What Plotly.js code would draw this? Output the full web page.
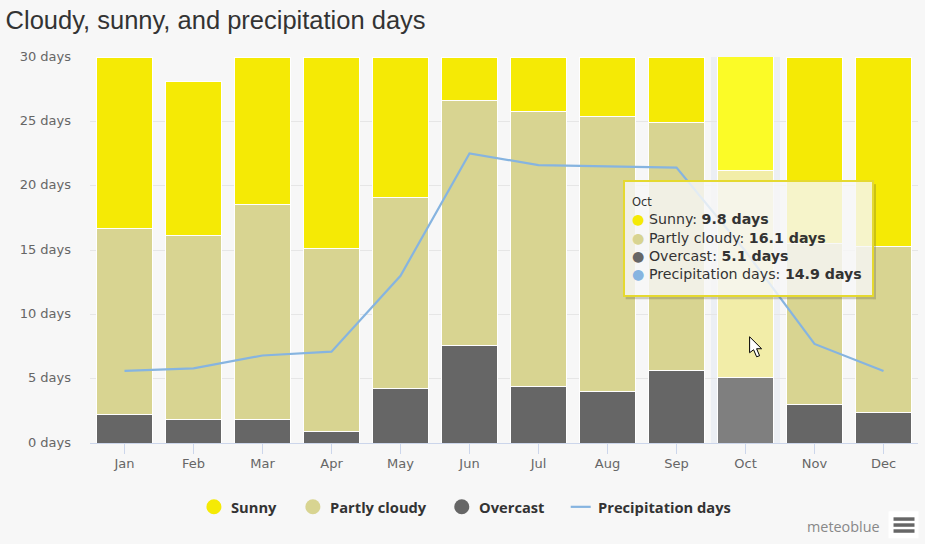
<!DOCTYPE html>
<html><head><meta charset="utf-8">
<script src="https://cdn.plot.ly/plotly-3.0.1.min.js"></script>
<style>html,body{margin:0;padding:0;background:#f7f7f7}</style></head>
<body><div id="chart" style="width:925px;height:544px"></div>
<script>
const months=["Jan","Feb","Mar","Apr","May","Jun","Jul","Aug","Sep","Oct","Nov","Dec"];
const overcast=[2.2,1.8,1.8,0.9,4.2,7.6,4.4,4.0,5.6,5.1,3.0,2.4];
const partly=[14.5,14.3,16.7,14.2,14.9,19.0,21.4,21.4,19.3,16.1,12.5,12.9];
const sunny=[13.3,12.0,11.5,14.9,10.9,3.4,4.2,4.6,5.1,9.8,14.5,14.7];
const precip=[5.6,5.8,6.8,7.1,13.0,22.5,21.6,21.5,21.4,14.9,7.7,5.6];
const yTicks=[0,5,10,15,20,25,30];
const hi=9;
const colSun="#f5ea05",colPart="#d8d491",colOver="#666666",colRain="#86b4e0";
const withHi=(c,h)=>months.map((_,i)=>i===hi?h:c);
const bar=(name,y,c,h)=>({type:"bar",name,x:months,y,showlegend:false,hoverinfo:"skip",width:0.8,
  marker:{color:withHi(c,h),line:{color:"#ffffff",width:1}}});
const data=[bar("Overcast",overcast,colOver,"#7f7f7f"),bar("Partly cloudy",partly,colPart,"#f2eda8"),bar("Sunny",sunny,colSun,"#fbfb27"),
 {type:"scatter",mode:"lines",name:"Precipitation days",x:months,y:precip,showlegend:false,line:{color:colRain,width:2.2},hoverinfo:"skip"}];
const tipFont="DejaVu Sans, Verdana, sans-serif";
const L=90,W=828.5,B=443.5,H=387;
const px=x=>(x-L)/W, py=y=>(B-y)/H;
const pr=(x0,x1,y0,y1,fill,extra)=>Object.assign({type:"rect",xref:"paper",yref:"paper",x0:px(x0),x1:px(x1),y0:py(y0),y1:py(y1),fillcolor:fill,line:{width:0},layer:"above"},extra||{});
const dot=c=>`<span style="color:${c}">●</span>`;
const tip=[`<span style="font-size:11.5px">Oct</span>`,
 `${dot(colSun)} Sunny: <b>9.8 days</b>`,`${dot(colPart)} Partly cloudy: <b>16.1 days</b>`,`${dot(colOver)} Overcast: <b>5.1 days</b>`,`${dot(colRain)} Precipitation days: <b>14.9 days</b>`].join("<br>");
const legendItems=[["Sunny",214,231,colSun],["Partly cloudy",313,330,colPart],["Overcast",462,479,colOver]];
const legFont={family:"Open Sans, sans-serif",size:14.7,color:"#333333",weight:700};
const legAnn=(text,x)=>({xref:"paper",yref:"paper",x:px(x),y:py(507.5),xanchor:"left",yanchor:"middle",showarrow:false,text:`<b>${text}</b>`,font:legFont,borderpad:0,borderwidth:0});
const cursor="M"+[[750,337],[750,353],[754,350],[757,357],[760,356],[757,349],[762,349]].map(p=>px(p[0])+","+py(p[1])).join(" L")+" Z";
const layout={width:925,height:544,paper_bgcolor:"#f7f7f7",plot_bgcolor:"#f7f7f7",barmode:"stack",bargap:0.2,showlegend:false,
 margin:{l:90,r:6.5,t:56.5,b:100.5},
 title:{text:"Cloudy, sunny, and precipitation days",x:0.006,xanchor:"left",y:0.964,yanchor:"middle",font:{family:"Liberation Sans, Arial",size:25.5,color:"#333333"}},
 xaxis:{type:"category",categoryorder:"array",categoryarray:months,tickmode:"array",tickvals:months,ticktext:months,ticks:"outside",ticklen:10,tickcolor:"#ccd6eb",tickwidth:1,showline:true,linecolor:"#ccd6eb",showgrid:false,tickfont:{family:tipFont,size:13,color:"#666666"},ticklabelstandoff:-2,fixedrange:true},
 yaxis:{range:[0,30],tickmode:"array",tickvals:yTicks,ticktext:yTicks.map(v=>v+" days"),gridcolor:"#e6e6e6",gridwidth:1,zeroline:false,showline:false,ticks:"",tickfont:{family:tipFont,size:13,color:"#666666"},ticklabelstandoff:18,ticklabelshift:-1,fixedrange:true},
 shapes:[
  {type:"rect",xref:"x",yref:"paper",x0:8.5,x1:9.5,y0:0,y1:1,fillcolor:"rgba(204,214,235,0.25)",line:{width:0},layer:"below"},
  pr(873.5,876.5,184,299.5,"rgba(90,90,60,0.28)"),
  pr(626,873.5,296.5,299.5,"rgba(90,90,60,0.28)"),
  ...legendItems.map(it=>({type:"circle",xref:"paper",yref:"paper",x0:px(it[1]-7.5),x1:px(it[1]+7.5),y0:py(500),y1:py(515),fillcolor:it[3],line:{width:0},layer:"above"})),
  {type:"line",xref:"paper",yref:"paper",x0:px(571),x1:px(591),y0:py(507.5),y1:py(507.5),line:{color:colRain,width:2.2},layer:"above"},
  pr(889,919,512,539,"#ffffff"),
  pr(894,915,518,521.5,"#666666"),pr(894,915,524,527.5,"#666666"),pr(894,915,530,533.5,"#666666"),
  {type:"path",xref:"paper",yref:"paper",path:cursor,fillcolor:"#ffffff",line:{color:"#000000",width:1},layer:"above"}
 ],
 annotations:[
  {xref:"paper",yref:"paper",x:px(623),y:py(180),xanchor:"left",yanchor:"top",align:"left",valign:"middle",showarrow:false,text:tip,width:233,height:99,
   font:{family:tipFont,size:14.2,color:"#333333"},bgcolor:"rgba(247,247,247,0.82)",bordercolor:"#e5d930",borderwidth:2,borderpad:7},
  ...legendItems.map(it=>legAnn(it[0],it[2])),
  legAnn("Precipitation days",598),
  {xref:"paper",yref:"paper",x:px(882.5),y:py(527),xanchor:"right",yanchor:"middle",showarrow:false,text:"meteoblue",font:{family:"Open Sans, sans-serif",size:14.4,color:"#888888"}}
 ]};
Plotly.newPlot("chart",data,layout,{displayModeBar:false,responsive:false});
</script></body></html>
